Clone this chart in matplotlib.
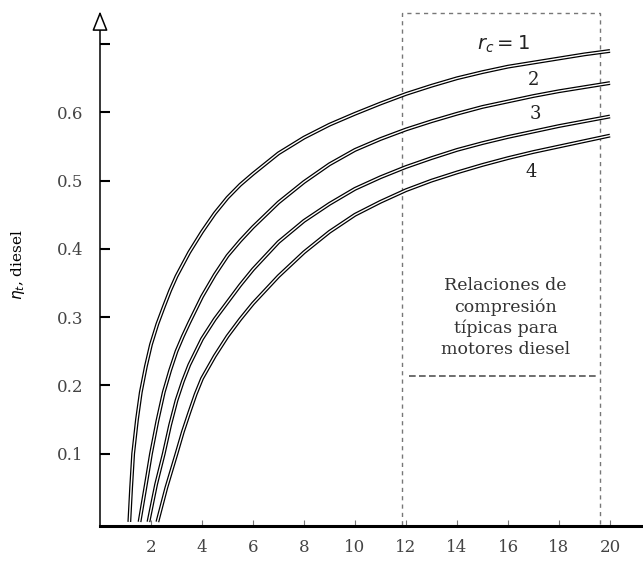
import matplotlib
matplotlib.use("Agg")
import matplotlib.pyplot as plt
from matplotlib.patches import Rectangle

# compression ratio r vs thermal efficiency
r1 = [1.15, 1.22, 1.3, 1.45, 1.6, 1.8, 2.0, 2.25, 2.5, 2.75, 3.0, 3.5, 4.0, 4.5, 5, 5.5, 6,
      7, 8, 9, 10, 11, 12, 13, 14, 15, 16, 17, 18, 19, 20]
eta1 = [0.0, 0.05, 0.10, 0.15, 0.19, 0.228, 0.26, 0.29, 0.315, 0.339, 0.36, 0.395, 0.425,
        0.452, 0.475, 0.494, 0.51, 0.54, 0.563, 0.582, 0.598, 0.613, 0.627, 0.639, 0.65,
        0.659, 0.667, 0.673, 0.679, 0.685, 0.69]

r2 = [1.55, 1.8, 2.0, 2.25, 2.5, 2.75, 3.0, 3.25, 3.5, 4, 4.5, 5, 5.5, 6, 7, 8, 9, 10,
      11, 12, 13, 14, 15, 16, 17, 18, 19, 20]
eta2 = [0.0, 0.055, 0.10, 0.148, 0.19, 0.222, 0.25, 0.272, 0.292, 0.33, 0.362, 0.39, 0.412,
        0.432, 0.468, 0.498, 0.524, 0.545, 0.561, 0.575, 0.587, 0.598, 0.608, 0.616, 0.624,
        0.631, 0.637, 0.643]

r3 = [1.9, 2.2, 2.5, 2.75, 3.0, 3.25, 3.5, 4, 4.5, 5, 5.5, 6, 7, 8, 9, 10, 11, 12, 13, 14,
      15, 16, 17, 18, 19, 20]
eta3 = [0.0, 0.055, 0.10, 0.142, 0.178, 0.206, 0.23, 0.268, 0.297, 0.322, 0.347, 0.37, 0.41,
        0.441, 0.466, 0.488, 0.505, 0.52, 0.533, 0.545, 0.555, 0.564, 0.572, 0.58, 0.587, 0.594]

r4 = [2.25, 2.6, 3.0, 3.25, 3.5, 3.75, 4, 4.5, 5, 5.5, 6, 7, 8, 9, 10, 11, 12, 13, 14, 15,
      16, 17, 18, 19, 20]
eta4 = [0.0, 0.05, 0.10, 0.132, 0.16, 0.187, 0.21, 0.243, 0.272, 0.297, 0.32, 0.36, 0.395,
        0.425, 0.45, 0.469, 0.486, 0.5, 0.512, 0.523, 0.533, 0.542, 0.55, 0.558, 0.566]

curves = [(r1, eta1), (r2, eta2), (r3, eta3), (r4, eta4)]
curve_labels = ["$r_c = 1$", "2", "3", "4"]
label_pos = [(15.8, 0.699), (17.0, 0.648), (17.06, 0.597), (16.9, 0.513)]

xticks = [2, 4, 6, 8, 10, 12, 14, 16, 18, 20]
yticks = [0.1, 0.2, 0.3, 0.4, 0.5, 0.6, 0.7]
ytick_labels = ["0.1", "0.2", "0.3", "0.4", "0.5", "0.6", ""]

box_lines = ["Relaciones de", "compresión", "típicas para", "motores diesel"]

fig = plt.figure(figsize=(6.43, 5.63), dpi=100)
ax = fig.add_axes([100 / 643, (563 - 526) / 563, 543 / 643, 516 / 563])
ax.set_xlim(0, 543 / 25.5)
ax.set_ylim(-0.006, 0.75)

# hollow-looking strokes like the printed figure
for r, eta in curves:
    ax.plot(r, eta, color="black", lw=2.8, solid_capstyle="butt",
            solid_joinstyle="round", zorder=3)
    ax.plot(r, eta, color="white", lw=1.0, solid_capstyle="butt",
            solid_joinstyle="round", zorder=4)

for text, (x, y) in zip(curve_labels, label_pos):
    fs = 14 if text.startswith("$") else 13
    ax.text(x, y, text, ha="center", va="center", fontsize=fs,
            family="DejaVu Serif", color="#222222", zorder=5)

# dashed box for typical diesel compression ratios
ax.add_patch(Rectangle((11.85, -0.006), 19.6 - 11.85, 0.752,
                       fill=False, ls=(0, (3, 3)), lw=1.0, ec="#777777", zorder=2,
                       clip_on=False))
ax.plot([12.1, 19.5], [0.214, 0.214], ls=(0, (4, 2)), lw=1.2, color="#555555", zorder=2)
for i, line in enumerate(box_lines):
    ax.text(15.9, 0.346 - i * 0.031, line, ha="center", va="center",
            fontsize=12.5, family="DejaVu Serif", color="#333333")

for s in ["top", "right", "left"]:
    ax.spines[s].set_visible(False)
ax.spines["bottom"].set_linewidth(2.2)
ax.annotate("", xy=(0, 0.748), xytext=(0, -0.006), annotation_clip=False,
            arrowprops=dict(arrowstyle="-|>,head_length=1.0,head_width=0.4",
                            mutation_scale=12, fc="white", ec="black", lw=1.1,
                            shrinkA=0, shrinkB=0))

ax.set_xticks(xticks)
ax.set_xticklabels([str(t) for t in xticks])
ax.set_yticks(yticks)
ax.set_yticklabels(ytick_labels)
ax.tick_params(axis="y", direction="in", length=7, width=1.5, pad=12,
               labelsize=12, labelcolor="#444444")
ax.tick_params(axis="x", direction="in", length=4, width=0.8, pad=9,
               labelsize=12, labelcolor="#444444", color="#777777")
for lab in ax.get_xticklabels() + ax.get_yticklabels():
    lab.set_family("DejaVu Serif")

fig.text(18 / 643, 1 - 265 / 563, r"$\eta_t$, diesel", rotation=90,
         ha="center", va="center", fontsize=11, family="DejaVu Serif")

fig.savefig("out.png", dpi=100)
